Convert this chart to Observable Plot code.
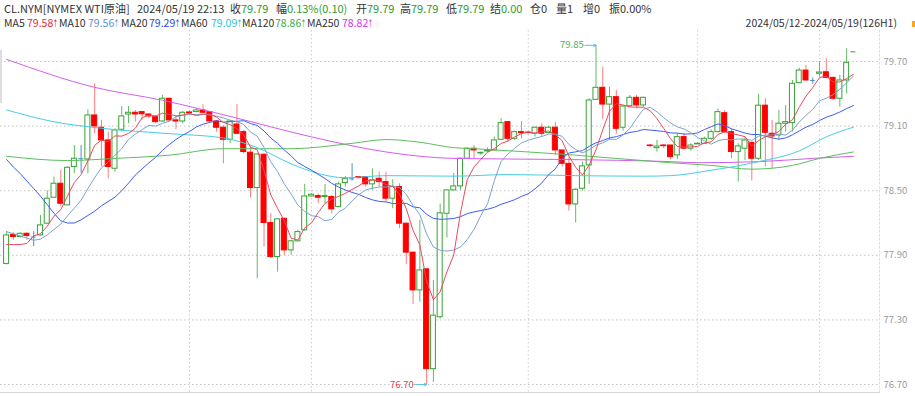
<!DOCTYPE html>
<html><head><meta charset="utf-8">
<script src="https://cdn.jsdelivr.net/npm/d3@7"></script>
<script src="https://cdn.jsdelivr.net/npm/@observablehq/plot@0.6"></script>
<style>
body{margin:0;background:#fff;}
#wrap{position:relative;width:915px;height:396px;overflow:hidden;font-family:"Noto Sans CJK SC",sans-serif;background:#fff;}
.t{position:absolute;white-space:nowrap;font-size:11px;line-height:14px;color:#333;}
.t2{font-size:10.5px;}
.ar{display:inline-block;width:4px;transform:scaleX(0.55);transform-origin:left center;font-family:"DejaVu Sans",sans-serif;}
#chart{position:absolute;left:0;top:30px;}
</style></head><body><div id="wrap"><div id="chart"></div></div>
<script>
// ---- data ----
const title = "CL.NYM[NYMEX WTI原油]";
const stamp = "2024/05/19 22:13";
const range = "2024/05/12-2024/05/19(126H1)";
const quoteLabels = ["收","幅","开","高","低","结","仓","量","增","振"];
const quoteValues = ["79.79","0.13%(0.10)","79.79","79.79","79.79","0.00","0","1","0","0.00%"];
const quoteUp = [true,true,true,true,true,true,false,false,false,false];
const maNames = ["MA5","MA10","MA20","MA60","MA120","MA250"];
const maLast = [79.58,79.56,79.29,79.09,78.86,78.82];
const yTicks = [76.70,77.30,77.90,78.50,79.10,79.70];
const xGrid = [27,45,77,102,120];

const open = [77.82,78.09,78.07,78.10,78.07,78.085,78.194,78.435,78.565,78.364,
78.72,78.797,78.79,79.199,79.085,78.967,78.704,79.066,79.208,79.224,
79.23,79.208,79.183,79.143,79.354,79.153,79.143,79.227,79.23,79.245,
79.23,79.143,79.085,78.973,79.115,79.044,78.853,78.525,78.834,78.20,
77.884,78.24,77.946,78.03,78.132,78.447,78.45,78.441,78.441,78.348,
78.571,78.61,78.627,78.627,78.559,78.611,78.58,78.426,78.534,78.194,
77.925,77.574,77.77,76.843,77.325,78.286,78.503,78.54,78.797,78.89,
78.846,78.865,78.874,78.973,79.137,78.982,79.044,79.04,79.029,79.085,
79.035,79.085,78.874,78.75,78.373,78.518,78.735,79.344,79.456,79.30,
79.369,79.085,79.285,79.363,79.292,78.92,78.896,78.92,78.92,78.828,
78.998,78.89,78.93,78.936,78.982,79.044,79.22,79.044,78.859,78.89,
78.945,78.797,79.29,79.029,79.013,79.122,79.128,79.499,79.616,79.524,
79.586,79.60,79.548,79.354,79.524,79.79];
const high = [78.12,78.11,78.11,78.11,78.12,78.27,78.50,78.627,78.689,78.72,
78.92,78.92,79.25,79.493,79.153,79.044,79.075,79.282,79.282,79.245,
79.23,79.214,79.199,79.385,79.36,79.19,79.236,79.24,79.26,79.298,
79.236,79.153,79.106,79.153,79.30,79.06,78.905,78.843,78.843,78.287,
78.24,78.24,78.039,78.132,78.559,78.472,78.47,78.559,78.457,78.58,
78.633,78.75,78.63,78.627,78.704,78.673,78.673,78.602,78.565,78.20,
77.93,78.226,77.77,77.667,78.376,78.51,78.66,78.806,78.899,78.92,
78.859,78.899,78.998,79.168,79.137,79.054,79.143,79.044,79.09,79.122,
79.097,79.137,78.874,78.806,78.518,78.766,79.354,79.85,79.647,79.462,
79.431,79.292,79.385,79.385,79.369,78.93,78.967,78.93,78.92,79.029,
79.029,78.936,78.942,78.998,79.066,79.26,79.245,79.075,78.936,78.998,
78.951,79.394,79.354,79.153,79.245,79.29,79.524,79.638,79.663,79.548,
79.70,79.725,79.555,79.57,79.818,79.79];
const low = [77.81,78.04,78.06,78.04,77.98,78.08,78.19,78.43,78.348,78.36,
78.658,78.66,78.658,79.029,78.72,78.611,78.673,79.044,79.122,79.137,
79.153,79.17,79.122,79.137,79.137,79.066,79.122,79.20,79.23,79.22,
79.137,79.044,78.75,78.936,79.02,78.843,78.435,77.683,77.977,77.869,
77.745,77.90,77.90,78.024,78.126,78.441,78.379,78.379,78.287,78.342,
78.534,78.59,78.61,78.534,78.503,78.534,78.395,78.333,78.147,77.816,
77.443,77.465,76.70,76.72,77.31,78.06,78.50,78.503,78.797,78.797,
78.828,78.853,78.87,78.967,78.952,78.967,78.982,79.029,78.998,78.998,
79.029,78.828,78.72,78.311,78.20,78.497,78.559,79.34,79.159,78.967,
79.023,79.054,79.276,79.26,79.276,78.90,78.859,78.89,78.788,78.788,
78.88,78.868,78.93,78.936,78.967,79.04,79.029,78.797,78.58,78.781,
78.59,78.781,78.72,78.704,78.967,79.044,79.044,79.493,79.518,79.487,
79.555,79.539,79.338,79.276,79.40,79.79];
const close = [78.085,78.07,78.10,78.08,78.07,78.178,78.426,78.565,78.379,78.713,
78.797,78.797,79.199,79.097,78.967,78.72,79.06,79.19,79.224,79.208,
79.21,79.19,79.137,79.354,79.153,79.143,79.224,79.22,79.245,79.224,
79.143,79.085,78.973,79.143,79.029,78.859,78.525,78.837,78.20,77.884,
78.234,77.946,78.03,78.116,78.447,78.463,78.435,78.45,78.327,78.559,
78.61,78.61,78.617,78.559,78.596,78.58,78.426,78.534,78.194,77.925,
77.574,77.76,76.843,77.34,78.29,78.503,78.54,78.797,78.89,78.874,
78.852,78.874,78.967,79.128,78.982,79.044,79.035,79.035,79.085,79.029,
79.085,78.874,78.75,78.373,78.509,78.726,79.338,79.456,79.30,79.369,
79.075,79.282,79.363,79.292,79.363,78.915,78.911,78.914,78.812,78.998,
78.89,78.92,78.936,78.982,79.044,79.23,79.044,78.859,78.911,78.967,
78.797,79.29,79.038,79.004,79.122,79.137,79.493,79.616,79.524,79.524,
79.598,79.548,79.354,79.524,79.688,79.79];

const ma5 = [78.00,78.00,78.00,78.01,78.081,78.100,78.171,78.264,78.324,78.452,
78.576,78.650,78.777,78.921,78.971,78.956,79.009,79.007,79.032,79.080,
79.178,79.204,79.194,79.220,79.209,79.195,79.202,79.219,79.197,79.211,
79.211,79.183,79.134,79.114,79.075,79.018,78.906,78.879,78.690,78.461,
78.336,78.220,78.059,78.042,78.155,78.200,78.298,78.382,78.424,78.447,
78.475,78.512,78.545,78.591,78.599,78.594,78.556,78.539,78.466,78.332,
78.131,77.997,77.659,77.488,77.561,77.747,77.903,78.294,78.604,78.721,
78.791,78.857,78.891,78.939,78.961,78.999,79.031,79.045,79.036,79.046,
79.054,79.022,78.965,78.822,78.718,78.646,78.739,78.880,79.066,79.238,
79.308,79.296,79.278,79.276,79.275,79.243,79.169,79.079,78.983,78.910,
78.905,78.907,78.911,78.945,78.954,79.022,79.047,79.032,79.018,79.002,
78.916,78.965,79.001,79.019,79.050,79.118,79.159,79.274,79.378,79.459,
79.551,79.562,79.510,79.510,79.542,79.581];
const ma10 = [78.12,78.10,78.08,78.06,78.04,78.05,78.09,78.14,78.19,78.267,
78.338,78.411,78.520,78.622,78.712,78.766,78.829,78.892,78.976,79.026,
79.067,79.107,79.100,79.126,79.145,79.187,79.203,79.206,79.208,79.210,
79.203,79.193,79.176,79.155,79.143,79.115,79.045,79.006,78.902,78.768,
78.677,78.563,78.469,78.366,78.308,78.268,78.259,78.221,78.233,78.301,
78.338,78.405,78.464,78.508,78.523,78.535,78.534,78.542,78.529,78.465,
78.363,78.277,78.099,77.977,77.947,77.939,77.950,77.977,78.046,78.141,
78.269,78.380,78.593,78.772,78.841,78.895,78.944,78.968,78.988,79.003,
79.026,79.026,79.005,78.929,78.882,78.850,78.880,78.923,78.944,78.978,
78.977,79.018,79.079,79.171,79.256,79.275,79.233,79.178,79.130,79.093,
79.074,79.038,78.995,78.964,78.932,78.964,78.977,78.972,78.981,78.978,
78.969,79.006,79.016,79.018,79.026,79.017,79.062,79.138,79.199,79.255,
79.335,79.360,79.392,79.444,79.501,79.566];
const ma20 = [78.79,78.72,78.66,78.59,78.52,78.45,78.37,78.29,78.22,78.20,
78.20,78.23,78.27,78.31,78.36,78.40,78.44,78.50,78.57,78.646,
78.703,78.759,78.810,78.874,78.928,78.976,79.016,79.049,79.092,79.118,
79.135,79.150,79.138,79.141,79.144,79.151,79.124,79.106,79.055,78.989,
78.940,78.878,78.823,78.761,78.725,78.691,78.652,78.613,78.568,78.534,
78.507,78.484,78.466,78.437,78.415,78.401,78.396,78.381,78.381,78.383,
78.350,78.341,78.281,78.243,78.235,78.237,78.242,78.259,78.287,78.303,
78.316,78.328,78.346,78.374,78.394,78.417,78.447,78.472,78.517,78.572,
78.648,78.703,78.799,78.850,78.861,78.872,78.912,78.945,78.966,78.991,
79.002,79.022,79.042,79.050,79.069,79.063,79.057,79.050,79.037,79.035,
79.026,79.028,79.037,79.068,79.094,79.120,79.105,79.075,79.056,79.035,
79.022,79.022,79.006,78.991,78.979,78.990,79.019,79.055,79.090,79.116,
79.152,79.183,79.204,79.231,79.263,79.291];
// sparse readings (candle index, value)
const ma60Idx = [0,7,14,24,32,37,42,46,50,56,66,74,84,94,98,104,111,117,121,125];
const ma60Val = [79.25,79.14,79.08,79.03,78.99,78.90,78.75,78.66,78.62,78.64,78.635,78.65,78.64,78.635,78.64,78.69,78.77,78.87,79.00,79.09];
const ma120Idx = [0,9,16,24,32,42,51,56,61,66,69,84,98,104,110,116,120,125];
const ma120Val = [78.82,78.78,78.80,78.83,78.89,78.89,78.94,78.975,78.95,78.90,78.89,78.83,78.76,78.735,78.70,78.735,78.80,78.86];
const ma250Idx = [0,13,23,33,45,56,61,66,82,98,102,111,119,125];
const ma250Val = [79.72,79.46,79.34,79.19,79.00,78.86,78.82,78.80,78.79,78.77,78.76,78.77,78.80,78.82];

// ---- styles ----
const maLine = ["#ea4a5e","#7ba3d0","#3d5ef2","#46cde6","#5cbf5c","#d65cf0"];
const maText = ["#e8283c","#5a8fd8","#2b3df0","#28c3d6","#41ad44","#d632ef"];
const upC = "#36a336", upWick = "#62bb62", dnC = "#ff0000", dnWick = "#ff7a7a", flatC = "#4a8fcc";
const green = "#2e9b2e";

// ---- header ----
const wrap = document.getElementById("wrap");
function addText(html, left, top, color, right, cls) {
  const d = document.createElement("div");
  d.className = "t" + (cls ? " " + cls : "");
  d.style.top = top + "px";
  if (right != null) d.style.right = right + "px"; else d.style.left = left + "px";
  if (color) d.style.color = color;
  d.innerHTML = html;
  wrap.appendChild(d);
  return d;
}
addText(title, 4, 1);
addText(stamp, 137, 1);
const qLeft = [230,276,356,400,446,490,530,556,583,609];
quoteLabels.forEach((lab, k) => {
  addText(`${lab}<span style="color:${quoteUp[k] ? green : "#333"}">${quoteValues[k]}</span>`, qLeft[k], 1);
});
const maLeft = [4,59,121,181,242,307];
const maValLeft = [27,88,149,211,275,342];
maNames.forEach((n, k) => {
  addText(n, maLeft[k], 16, null, null, "t2");
  addText(`${maLast[k].toFixed(2)}<span class="ar">↑</span>`, maValLeft[k], 16, maText[k], null, "t2");
});
addText(range, null, 16, "#333", 18, "t2");
// UI decorations (scroll markers)
const s1 = document.createElement("div");
s1.style.cssText = "position:absolute;left:0;top:50px;width:2px;height:53px;background:#ddd;";
wrap.appendChild(s1);
const s2 = document.createElement("div");
s2.style.cssText = "position:absolute;left:912px;top:21px;width:3px;height:6px;background:#f5a623;";
wrap.appendChild(s2);

// ---- chart ----
const candles = open.map((o, i) => {
  const c = close[i];
  let dir = c > o ? "up" : c < o ? "down" : (i > 0 && c > close[i - 1] ? "up" : "flat");
  return {i, o, h: high[i], l: low[i], c, dir, lo: Math.min(o, c), hi: Math.max(o, c)};
});
const wickColor = d => d.dir === "up" ? upWick : d.dir === "down" ? dnWick : flatC;
const bodyStroke = d => d.dir === "up" ? upC : d.dir === "down" ? dnC : flatC;
const bodies = candles.filter(d => d.o !== d.c);
const flats = candles.filter(d => d.o === d.c);
const series = arr => arr.map((v, i) => ({i, v}));
const sparse = (idx, val) => idx.map((i, k) => ({i, v: val[k]}));
const hiPt = d3.greatest(candles, d => d.h);
const loPt = d3.least(candles, d => d.l);
const hw = 0.37;

const chart = Plot.plot({
  width: 915, height: 366,
  marginTop: 0, marginBottom: 4, marginLeft: 0, marginRight: 36,
  style: {fontFamily: '"Noto Sans CJK SC", sans-serif', fontSize: "9.5px", background: "white"},
  x: {type: "linear", domain: [-0.9, 128.85], axis: null},
  y: {domain: [76.626, 79.988], axis: null},
  marks: [
    Plot.gridY(yTicks, {stroke: "#c4c4c4", strokeOpacity: 1, strokeDasharray: "1.5,2.5"}),
    Plot.gridX(xGrid, {stroke: "#cccccc", strokeOpacity: 1, strokeDasharray: "1.5,2.5"}),
    Plot.frame({anchor: "right", stroke: "#dddddd", strokeDasharray: "1.5,2.5"}),
    Plot.frame({anchor: "bottom", stroke: "#d8d8d8"}),
    Plot.axisY(yTicks, {anchor: "right", tickSize: 0, tickPadding: 4, tickFormat: d3.format(".2f"), fill: "#9a9a9a"}),
    Plot.ruleX(candles, {x: "i", y1: "l", y2: "h", stroke: wickColor, strokeWidth: 1}),
    Plot.rect(bodies, {x1: d => d.i - hw, x2: d => d.i + hw, y1: "lo", y2: "hi",
      fill: d => d.dir === "up" ? "white" : dnC, stroke: bodyStroke, strokeWidth: 1}),
    Plot.ruleY(flats, {y: "c", x1: d => d.i - hw, x2: d => d.i + hw, stroke: bodyStroke, strokeWidth: 1}),
    Plot.line(sparse(ma250Idx, ma250Val), {x: "i", y: "v", stroke: maLine[5], strokeWidth: 1, curve: "monotone-x"}),
    Plot.line(sparse(ma120Idx, ma120Val), {x: "i", y: "v", stroke: maLine[4], strokeWidth: 1, curve: "monotone-x"}),
    Plot.line(sparse(ma60Idx, ma60Val), {x: "i", y: "v", stroke: maLine[3], strokeWidth: 1, curve: "monotone-x"}),
    Plot.line(series(ma20), {x: "i", y: "v", stroke: maLine[2], strokeWidth: 1}),
    Plot.line(series(ma10), {x: "i", y: "v", stroke: maLine[1], strokeWidth: 1}),
    Plot.line(series(ma5), {x: "i", y: "v", stroke: maLine[0], strokeWidth: 1}),
    Plot.arrow([hiPt], {x1: d => d.i - 1.65, x2: "i", y1: "h", y2: "h", stroke: "#5bbfe0", headLength: 4, strokeWidth: 1}),
    Plot.text([hiPt], {x: d => d.i - 1.65, y: "h", text: d => d.h.toFixed(2), textAnchor: "end", dx: -1, fill: "#4caf50"}),
    Plot.arrow([loPt], {x1: d => d.i - 1.75, x2: "i", y1: "l", y2: "l", stroke: "#5bbfe0", headLength: 4, strokeWidth: 1}),
    Plot.text([loPt], {x: d => d.i - 1.75, y: "l", text: d => d.l.toFixed(2), textAnchor: "end", dx: -1, fill: "#e04848"})
  ]
});
document.getElementById("chart").appendChild(chart);
</script></body></html>
